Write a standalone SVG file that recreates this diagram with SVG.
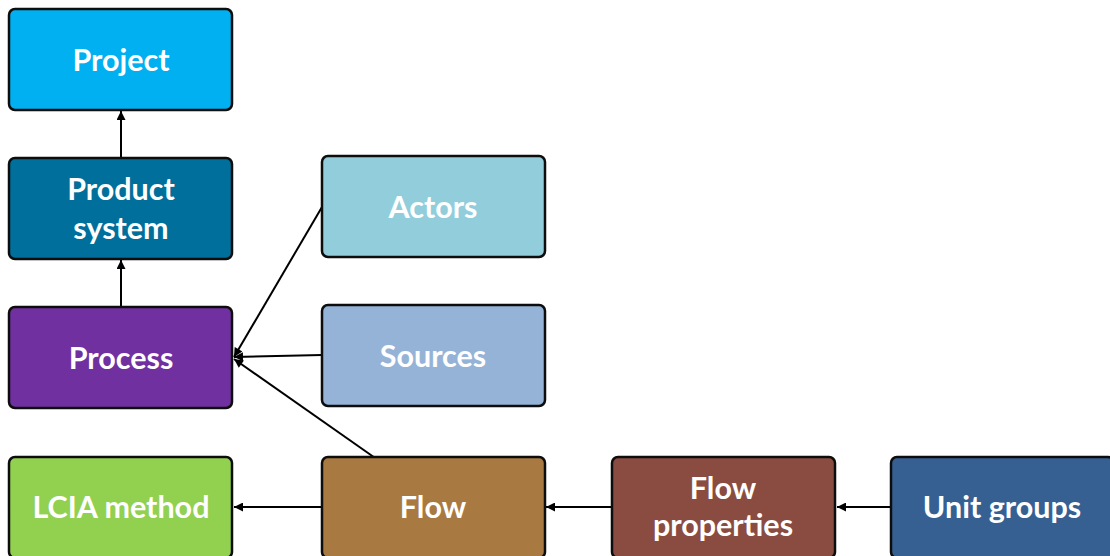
<svg xmlns="http://www.w3.org/2000/svg" width="1110" height="556" viewBox="0 0 1110 556">
  <defs>
    <marker id="arrow" viewBox="0 0 10 10" refX="10" refY="5" markerWidth="10" markerHeight="9" orient="auto" markerUnits="userSpaceOnUse">
      <path d="M0,0 L10,5 L0,10 Z" fill="#000"/>
    </marker>
    <style>
      .box { stroke: #0d0d0d; stroke-width: 2.5; }
      .lbl { font-family: Lato, "Liberation Sans", sans-serif; font-weight: bold; font-size: 30.5px; fill: #fff; text-anchor: middle; }
      .edge { stroke: #000; stroke-width: 2; fill: none; marker-end: url(#arrow); }
    </style>
  </defs>
  <rect width="1110" height="556" fill="#fff"/>

  <g id="connectors">
    <line class="edge" x1="121" y1="158" x2="121" y2="111"/>
    <line class="edge" x1="121" y1="307" x2="121" y2="260"/>
    <line class="edge" x1="322" y1="207" x2="234" y2="357"/>
    <line class="edge" x1="322" y1="355" x2="234" y2="357"/>
    <line class="edge" x1="378" y1="460" x2="234" y2="359"/>
    <line class="edge" x1="322" y1="507" x2="234" y2="507"/>
    <line class="edge" x1="612" y1="507" x2="546" y2="507"/>
    <line class="edge" x1="891" y1="507" x2="837" y2="507"/>
  </g>

  <g id="project">
    <rect class="box" x="9" y="9" width="223" height="101" rx="6" fill="#00B0F0"/>
    <text class="lbl" x="121" y="71">Project</text>
  </g>
  <g id="product-system">
    <rect class="box" x="9" y="158" width="223" height="101" rx="6" fill="#006F9B"/>
    <text class="lbl" x="121" y="200">Product</text>
    <text class="lbl" x="121" y="239">system</text>
  </g>
  <g id="process">
    <rect class="box" x="9" y="307" width="223" height="101" rx="6" fill="#7030A0"/>
    <text class="lbl" x="121" y="369">Process</text>
  </g>
  <g id="actors">
    <rect class="box" x="322" y="156" width="223" height="101" rx="6" fill="#92CDDC"/>
    <text class="lbl" x="433" y="218">Actors</text>
  </g>
  <g id="sources">
    <rect class="box" x="322" y="305" width="223" height="101" rx="6" fill="#95B3D7"/>
    <text class="lbl" x="433" y="367">Sources</text>
  </g>
  <g id="lcia-method">
    <rect class="box" x="9" y="457" width="223" height="101" rx="6" fill="#92D050"/>
    <text class="lbl" x="121" y="518">LCIA method</text>
  </g>
  <g id="flow">
    <rect class="box" x="322" y="457" width="223" height="101" rx="6" fill="#A97942"/>
    <text class="lbl" x="433" y="518">Flow</text>
  </g>
  <g id="flow-properties">
    <rect class="box" x="612" y="457" width="223" height="101" rx="6" fill="#8A4C40"/>
    <text class="lbl" x="723" y="499">Flow</text>
    <text class="lbl" x="723" y="536">properties</text>
  </g>
  <g id="unit-groups">
    <rect class="box" x="891" y="457" width="223" height="101" rx="6" fill="#376092"/>
    <text class="lbl" x="1002" y="518">Unit groups</text>
  </g>
</svg>
